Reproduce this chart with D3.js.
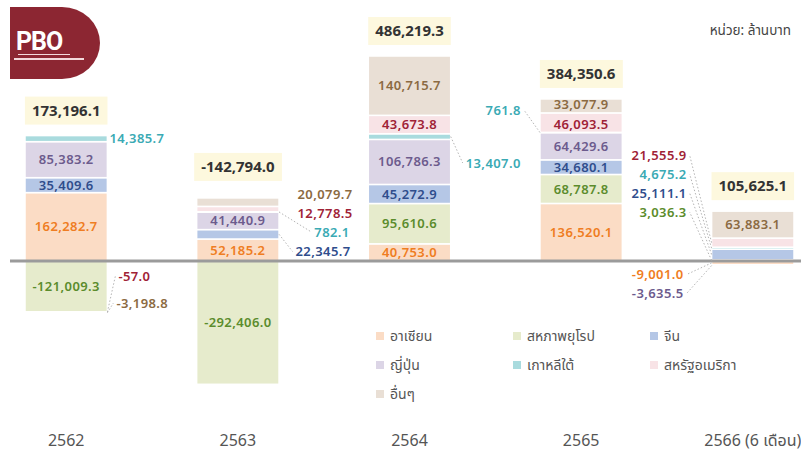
<!DOCTYPE html>
<html>
<head>
<meta charset="utf-8">
<script src="https://cdn.jsdelivr.net/npm/d3@7"></script>
<style>
  body { margin: 0; background: #fff; }
  svg { display: block; font-family: "Noto Sans Thai", "Noto Sans", sans-serif; }
  .num { font-family: "Noto Sans", sans-serif; }
</style>
</head>
<body>
<svg id="chart" width="801" height="457"></svg>
<script>
// values in million baht
const years = ["2562", "2563", "2564", "2565", "2566 (6 เดือน)"]
const keys = ["asean", "eu", "china", "japan", "korea", "usa", "others"]
const seriesNames = ["อาเซียน", "สหภาพยุโรป", "จีน", "ญี่ปุ่น", "เกาหลีใต้", "สหรัฐอเมริกา", "อื่นๆ"]
const asean = [162282.7, 52185.2, 40753.0, 136520.1, -9001.0]
const eu = [-121009.3, -292406.0, 95610.6, 68787.8, 3036.3]
const china = [35409.6, 22345.7, 45272.9, 34680.1, 25111.1]
const japan = [85383.2, 41440.9, 106786.3, 64429.6, -3635.5]
const korea = [14385.7, 782.1, 13407.0, 761.8, 4675.2]
const usa = [-57.0, 12778.5, 43673.8, 46093.5, 21555.9]
const others = [-3198.8, 20079.7, 140715.7, 33077.9, 63883.1]
const totals = [173196.1, -142794.0, 486219.3, 384350.6, 105625.1]

const fills = {asean: "#fbdcc5", eu: "#e6ebcc", china: "#b5c7e6", japan: "#dcd5e6", korea: "#a9dbde", usa: "#f8e3e6", others: "#e9dfd5"}
const inks = {asean: "#ef7d22", eu: "#5b8c2c", china: "#2f4d8c", japan: "#6c5b8d", korea: "#3aaab4", usa: "#9f2236", others: "#8b6a42"}

// labels that sit outside their segment: year index, key, offset from bar edge, label y, anchor, leader line
const outside = [
  {yi: 0, k: "korea", dx: 2, ly: 138, anchor: "start", leader: false},
  {yi: 0, k: "usa", dx: 11, ly: 276, anchor: "start", leader: true},
  {yi: 0, k: "others", dx: 9, ly: 303, anchor: "start", leader: true},
  {yi: 1, k: "others", dx: 46, ly: 194, anchor: "middle", leader: false},
  {yi: 1, k: "usa", dx: 46, ly: 213, anchor: "middle", leader: false},
  {yi: 1, k: "korea", dx: 53, ly: 232, anchor: "middle", leader: true},
  {yi: 1, k: "china", dx: 44, ly: 251.5, anchor: "middle", leader: true},
  {yi: 2, k: "korea", dx: 15, ly: 163, anchor: "start", leader: true},
  {yi: 3, k: "korea", dx: -19, ly: 110, anchor: "end", leader: true},
  {yi: 4, k: "usa", dx: -25, ly: 155, anchor: "end", leader: true},
  {yi: 4, k: "korea", dx: -25, ly: 174, anchor: "end", leader: true},
  {yi: 4, k: "china", dx: -25, ly: 193, anchor: "end", leader: true},
  {yi: 4, k: "eu", dx: -25, ly: 212, anchor: "end", leader: true},
  {yi: 4, k: "asean", dx: -28, ly: 274.5, anchor: "end", leader: true},
  {yi: 4, k: "japan", dx: -28, ly: 293.5, anchor: "end", leader: true}
]
// small vertical nudges for crowded inside labels
const nudge = {"3-others": -1.5, "3-usa": 1.5}
// the 2563 total box sits a bit higher in the original
const totalGap = [25, 31, 25, 25, 25]

const W = 801, H = 457
const svg = d3.select("#chart")
const fmt = d3.formatLocale({decimal: ".", thousands: ",", grouping: [3], currency: ["", ""], minus: "-"}).format(",.1f")
const LABEL_SIZE = 13

const rows = years.map((yr, i) => ({
  year: yr, asean: asean[i], eu: eu[i], china: china[i], japan: japan[i],
  korea: korea[i], usa: usa[i], others: others[i]
}))

const stacked = d3.stack().keys(keys).offset(d3.stackOffsetDiverging)(rows)

const x = d3.scaleBand().domain(years).range([25, 794]).paddingInner(0.52).paddingOuter(0)
const y = d3.scaleLinear().domain([-300000, 500000]).range([387.5, 50.2])

// logo
const logo = svg.append("g").attr("class", "logo")
logo.append("path")
  .attr("d", "M10,7 H62 A38,36 0 0 1 62,79 H10 Z")
  .attr("fill", "#8c2632")
logo.append("text")
  .attr("x", 16).attr("y", 50)
  .attr("fill", "#fff")
  .attr("font-size", 25).attr("font-weight", 700)
  .attr("font-family", "Roboto, sans-serif")
  .attr("letter-spacing", -1)
  .text("PBO")
logo.append("rect").attr("x", 18).attr("y", 54).attr("width", 52).attr("height", 1).attr("fill", "#f3d9dc")
logo.append("rect").attr("x", 14).attr("y", 58).attr("width", 70).attr("height", 2).attr("fill", "#f3d9dc")

// unit
svg.append("text")
  .attr("x", 791).attr("y", 35)
  .attr("text-anchor", "end")
  .attr("font-size", 13.5)
  .attr("fill", "#444")
  .text("หน่วย: ล้านบาท")

// bars
const layer = svg.append("g").selectAll("g.series")
  .data(stacked)
  .join("g")
  .attr("class", "series")
  .attr("fill", d => fills[d.key])

layer.selectAll("rect")
  .data(d => d)
  .join("rect")
  .attr("x", d => x(d.data.year))
  .attr("width", x.bandwidth())
  .attr("y", d => y(Math.max(d[0], d[1])))
  .attr("height", d => Math.abs(y(d[0]) - y(d[1])))
  .attr("stroke", "#fff")
  .attr("stroke-width", 1.5)

// zero line
svg.append("line")
  .attr("x1", 10).attr("x2", W)
  .attr("y1", y(0)).attr("y2", y(0))
  .attr("stroke", "#9b9b9b")
  .attr("stroke-width", 3)

// labels inside segments
const isOutside = (yi, k) => outside.some(o => o.yi === yi && o.k === k)
const insideData = []
stacked.forEach(s => s.forEach((v, i) => {
  if (!isOutside(i, s.key)) insideData.push({k: s.key, i: i, v: v})
}))

svg.append("g").selectAll("text")
  .data(insideData)
  .join("text")
  .attr("class", "num")
  .attr("x", d => x(years[d.i]) + x.bandwidth() / 2)
  .attr("y", d => (y(d.v[0]) + y(d.v[1])) / 2 + (nudge[d.i + "-" + d.k] || 0))
  .attr("dy", "0.35em")
  .attr("text-anchor", "middle")
  .attr("font-size", LABEL_SIZE)
  .attr("font-weight", 600)
  .attr("letter-spacing", 0.4)
  .attr("fill", d => inks[d.k])
  .text(d => fmt(d.v.data[d.k]))

// labels outside segments, with dotted leaders
const segOf = (yi, k) => stacked.find(s => s.key === k)[yi]
const outG = svg.append("g")
outside.forEach(o => {
  const bx = o.dx >= 0 ? x(years[o.yi]) + x.bandwidth() : x(years[o.yi])
  const t = outG.append("text")
    .attr("class", "num")
    .attr("x", bx + o.dx)
    .attr("y", o.ly)
    .attr("dy", "0.35em")
    .attr("text-anchor", o.anchor)
    .attr("font-size", LABEL_SIZE)
    .attr("font-weight", 600)
    .attr("letter-spacing", 0.4)
    .attr("fill", inks[o.k])
    .text(fmt(rows[o.yi][o.k]))
  if (o.leader) {
    const bb = t.node().getBBox()
    const seg = segOf(o.yi, o.k)
    const sy = (y(seg[0]) + y(seg[1])) / 2
    const ex = o.dx >= 0 ? bb.x - 3 : bb.x + bb.width + 3
    outG.append("line")
      .attr("x1", bx).attr("y1", sy)
      .attr("x2", ex).attr("y2", o.ly)
      .attr("stroke", "#b5b5b5")
      .attr("stroke-width", 1)
      .attr("stroke-dasharray", "1.5,2")
  }
})

// totals
const tops = years.map((yr, i) => d3.max(stacked, s => s[i][1]))
const totG = svg.append("g").selectAll("g")
  .data(totals)
  .join("g")
  .attr("transform", (d, i) => `translate(${x(years[i]) + x.bandwidth() / 2}, ${y(tops[i]) - totalGap[i]})`)

totG.append("text")
  .attr("class", "num")
  .attr("text-anchor", "middle")
  .attr("dy", "0.35em")
  .attr("font-size", 15)
  .attr("font-weight", 700)
  .attr("fill", "#333")
  .text(d => fmt(d))

totG.insert("rect", "text")
  .each(function() {
    const bb = this.parentNode.querySelector("text").getBBox()
    d3.select(this)
      .attr("x", bb.x - 7).attr("width", bb.width + 14)
      .attr("y", -14).attr("height", 28)
  })
  .attr("fill", "#fdf8de")

// x axis labels
const xAxis = svg.append("g")
  .attr("transform", `translate(0, 432)`)
  .call(d3.axisBottom(x).tickSize(0))
xAxis.select(".domain").remove()
xAxis.selectAll("text")
  .attr("font-size", 16)
  .attr("font-family", "\"Noto Sans Thai\", \"Noto Sans\", sans-serif")
  .attr("fill", "#555")

// legend
const legend = svg.append("g").selectAll("g")
  .data(seriesNames)
  .join("g")
  .attr("transform", (d, i) => `translate(${376 + (i % 3) * 137}, ${336 + Math.floor(i / 3) * 29})`)

legend.append("rect")
  .attr("x", 0).attr("y", -4)
  .attr("width", 8).attr("height", 8)
  .attr("fill", (d, i) => fills[keys[i]])

legend.append("text")
  .attr("x", 14)
  .attr("dy", "0.35em")
  .attr("font-size", 14)
  .attr("fill", "#555")
  .text(d => d)
</script>
</body>
</html>
